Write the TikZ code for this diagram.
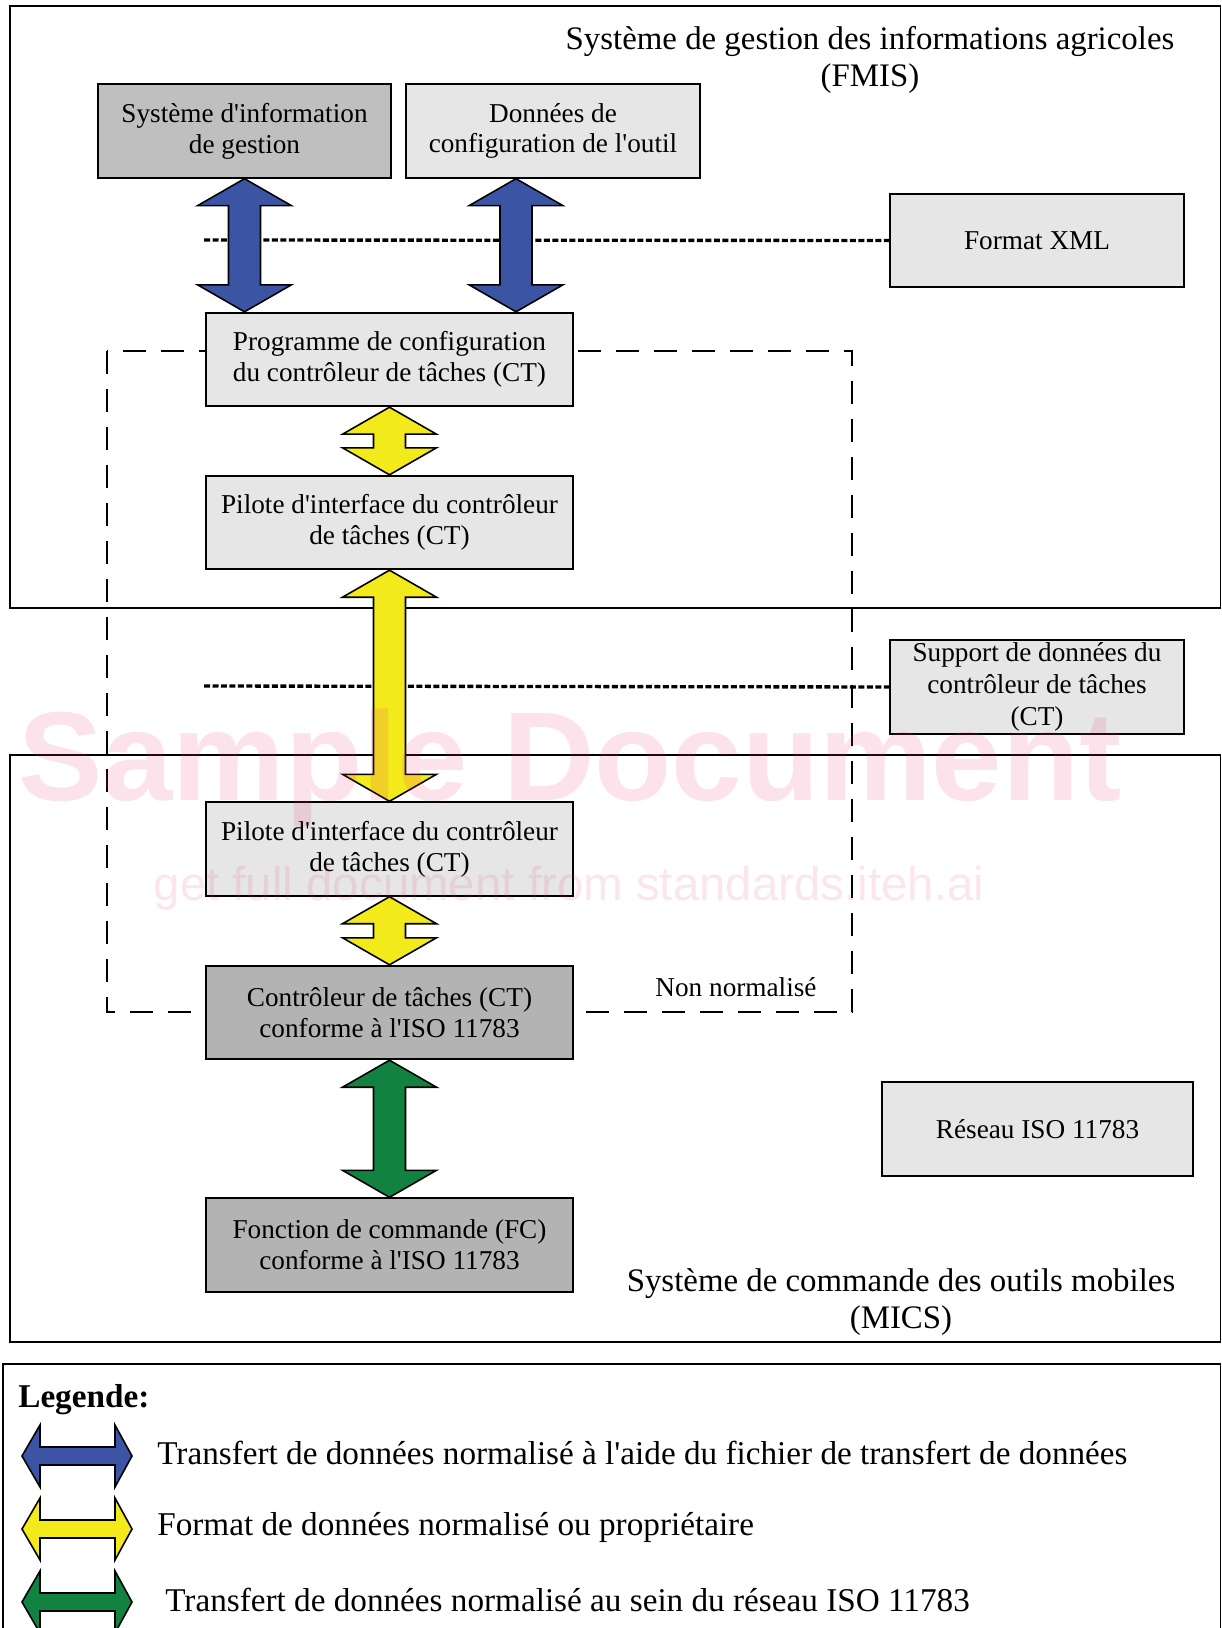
\documentclass[tikz,border=0pt]{standalone}
\usepackage{fontspec}
\setmainfont{Liberation Serif}[Ligatures=TeXOff]
\newfontfamily\wmfont{Liberation Sans}
\usetikzlibrary{calc}

\definecolor{boxlight}{RGB}{230,230,230}
\definecolor{boxmid}{RGB}{191,191,191}
\definecolor{boxdark}{RGB}{179,179,179}
\definecolor{arrblue}{RGB}{59,85,164}
\definecolor{arryellow}{RGB}{242,234,26}
\definecolor{arrgreen}{RGB}{17,130,64}
\definecolor{wmpink}{RGB}{232,60,120}

\newcommand{\boxtxt}{\fontsize{15.5}{17.6}\selectfont}
\newcommand{\titletxt}{\fontsize{18.7}{21}\selectfont}
\newcommand{\legtxt}{\fontsize{18.9}{21}\selectfont}

% double block arrow, top tip #1, bottom tip #2
\newcommand{\vbiarrow}[3]{%
  \draw[blockarrow,fill=#3] (#1) -- ++(47,27) -- ++(-31,0) -- ($(#2)+(16,-27)$) -- ++(31,0) -- (#2)
    -- ++(-47,-27) -- ++(31,0) -- ($(#1)+(-16,27)$) -- ++(-31,0) -- cycle;}
% same, lying down (legend)
\newcommand{\hbiarrow}[3]{%
  \draw[blockarrow,fill=#3] (#1) -- ++(18,-31) -- ++(0,22) -- ($(#2)+(-17,-9)$) -- ++(0,-22) -- (#2)
    -- ++(-17,31) -- ++(0,-22) -- ($(#1)+(18,9)$) -- ++(0,22) -- cycle;}

\begin{document}
\begin{tikzpicture}[x=0.02cm,y=-0.02cm,
  frame/.style={draw,line width=1.1pt},
  box/.style={draw,line width=1.1pt,inner sep=0pt,minimum height=1.87cm,align=center,font=\boxtxt},
  lightbox/.style={box,fill=boxlight},
  darkbox/.style={box,fill=boxdark},
  blockarrow/.style={draw=black,line width=0.9pt,line join=miter},
  dotline/.style={line width=1.9pt,dash pattern=on 0.12cm off 0.05cm},
  zone/.style={line width=0.9pt,dash pattern=on 0.46cm off 0.3cm}]
\useasboundingbox (0,0) rectangle (1222,1628);

% zones
\draw[frame] (10,6) rectangle (1220.5,608);
\draw[frame] (10,755) rectangle (1220.5,1342);
\draw[frame] (3,1364) rectangle (1220.5,1660);
\node[font=\titletxt,align=center] (fmistitle) at (870,60) {Système de gestion des informations agricoles\\(FMIS)};
\node[font=\titletxt,align=center] (micstitle) at (901,1302) {Système de commande des outils mobiles\\(MICS)};

\draw[zone] (107,351) rectangle (852,1012);
\node[font=\boxtxt] (nonorm) at (736,987) {Non normalisé};

% dotted levels
\coordinate (xmlstart) at (204,240);
\coordinate (suppstart) at (204,686);
\node[lightbox,minimum width=5.88cm] (xml) at (1037,240.5) {Format XML};
\node[lightbox,minimum width=5.88cm,font=\fontsize{15.5}{18.2}\selectfont] (supp) at (1037,687) {Support de données du\\contrôleur de tâches\\(CT)};
\node[lightbox,minimum width=6.22cm] (net) at (1037.5,1129) {Réseau ISO 11783};
\draw[dotline] (xmlstart) -- (xml.west);
\draw[dotline] (suppstart) -- (supp.west);

% boxes
\node[box,fill=boxmid,minimum width=5.86cm] (sig) at (244.5,131) {Système d'information\\de gestion};
\node[lightbox,minimum width=5.88cm] (cfg) at (553,131) {Données de\\configuration de l'outil};
\node[lightbox,minimum width=7.34cm] (prog) at (389.5,359.5) {Programme de configuration\\du contrôleur de tâches (CT)};
\node[lightbox,minimum width=7.34cm] (pil1) at (389.5,522.5) {Pilote d'interface du contrôleur\\de tâches (CT)};
\node[lightbox,minimum width=7.34cm] (pil2) at (389.5,849) {Pilote d'interface du contrôleur\\de tâches (CT)};
\node[darkbox,minimum width=7.34cm] (ct) at (389.5,1012.5) {Contrôleur de tâches (CT)\\conforme à l'ISO 11783};
\node[darkbox,minimum width=7.34cm] (fc) at (389.5,1245) {Fonction de commande (FC)\\conforme à l'ISO 11783};

% arrows
\coordinate (b2top) at ([xshift=-0.74cm]cfg.south);
\vbiarrow{sig.south}{sig.south |- prog.north}{arrblue}
\vbiarrow{b2top}{b2top |- prog.north}{arrblue}
\vbiarrow{prog.south}{pil1.north}{arryellow}
\vbiarrow{pil1.south}{pil2.north}{arryellow}
\vbiarrow{pil2.south}{ct.north}{arryellow}
\vbiarrow{ct.south}{fc.north}{arrgreen}

% legend
\node[font=\bfseries\legtxt,anchor=west,inner sep=0pt] (legtitle) at (18,1400) {Legende:};
\coordinate (l1a) at (22,1456); \coordinate (l1b) at (132,1456);
\coordinate (l2a) at (22,1529); \coordinate (l2b) at (132,1529);
\coordinate (l3a) at (22,1602); \coordinate (l3b) at (132,1602);
\hbiarrow{l1a}{l1b}{arrblue}
\hbiarrow{l2a}{l2b}{arryellow}
\hbiarrow{l3a}{l3b}{arrgreen}
\node[font=\legtxt,anchor=west,inner sep=0pt] (leg1) at (157,1453) {Transfert de données normalisé à l'aide du fichier de transfert de données};
\node[font=\legtxt,anchor=west,inner sep=0pt] (leg2) at (157,1527) {Format de données normalisé ou propriétaire};
\node[font=\legtxt,anchor=west,inner sep=0pt] (leg3) at (165,1600) {Transfert de données normalisé au sein du réseau ISO 11783};

% watermark
\node[font=\wmfont\bfseries\fontsize{72}{72}\selectfont,text=wmpink,text opacity=0.15] (wm) at (570,768) {Sample Document};
\node[font=\wmfont\fontsize{27}{27}\selectfont,text=wmpink,text opacity=0.13] (wmsub) at (569,888) {get full document from standards.iteh.ai};
\end{tikzpicture}
\end{document}
